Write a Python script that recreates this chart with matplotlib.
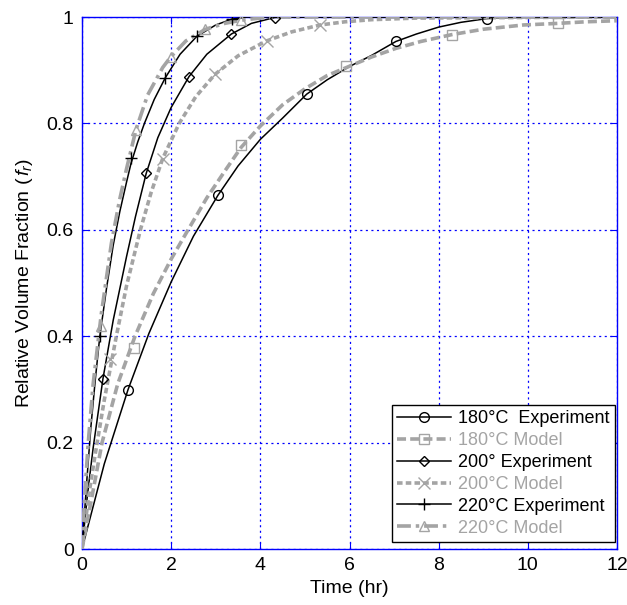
import matplotlib
matplotlib.use("Agg")
import matplotlib.pyplot as plt
from matplotlib.lines import Line2D

plt.rcParams['font.family'] = ['Liberation Sans', 'DejaVu Sans']
plt.rcParams['mathtext.fontset'] = 'custom'
plt.rcParams['mathtext.rm'] = 'Liberation Sans'
plt.rcParams['mathtext.it'] = 'Liberation Sans:italic'
plt.rcParams['lines.scale_dashes'] = False

# ---- data ----
# 180 C experiment
t180e = [0, 0.5, 1.03, 1.5, 2.0, 2.5, 3.05, 3.5, 4.0, 4.5, 5.04, 5.5, 6.0, 6.5, 7.04, 7.5, 8.0, 8.5, 9.08, 9.6, 10.1, 12]
f180e = [0, 0.16, 0.299, 0.405, 0.502, 0.588, 0.665, 0.72, 0.77, 0.81, 0.855, 0.882, 0.907, 0.928, 0.954, 0.968, 0.981, 0.99, 0.997, 0.999, 1.0, 1.0]
m180e_t = [1.03, 3.05, 5.04, 7.04, 9.08]
m180e_f = [0.299, 0.665, 0.855, 0.954, 0.997]

# 180 C model
t180m = [0, 0.25, 0.45, 0.8, 1.19, 1.6, 2.0, 2.38, 2.8, 3.2, 3.57, 4.0, 4.5, 5.0, 5.5, 5.93, 6.5, 7.04, 7.6, 8.3, 9.0, 9.9, 10.67, 11.3, 12]
f180m = [0, 0.11, 0.2, 0.31, 0.4, 0.48, 0.545, 0.6, 0.66, 0.71, 0.755, 0.795, 0.835, 0.865, 0.89, 0.905, 0.925, 0.941, 0.954, 0.967, 0.977, 0.985, 0.988, 0.991, 0.993]
m180m_t = [1.16, 3.57, 5.93, 8.3, 10.67]
m180m_f = [0.377, 0.759, 0.908, 0.967, 0.988]

# 200 C experiment
t200e = [0, 0.12, 0.25, 0.47, 0.7, 1.0, 1.2, 1.44, 1.7, 2.0, 2.4, 2.8, 3.35, 3.8, 4.32, 4.6, 12]
f200e = [0, 0.1, 0.19, 0.32, 0.43, 0.55, 0.625, 0.706, 0.773, 0.83, 0.888, 0.93, 0.968, 0.988, 0.999, 1.0, 1.0]
m200e_t = [0.47, 1.44, 2.40, 3.35, 4.32]
m200e_f = [0.32, 0.706, 0.888, 0.968, 0.999]

# 200 C model
t200m = [0, 0.15, 0.3, 0.5, 0.77, 1.0, 1.31, 1.55, 1.81, 2.18, 2.55, 2.98, 3.5, 4.14, 4.7, 5.34, 5.9, 6.5, 7.5, 12]
f200m = [0, 0.1, 0.18, 0.28, 0.4, 0.495, 0.6, 0.67, 0.734, 0.8, 0.85, 0.892, 0.927, 0.955, 0.972, 0.985, 0.991, 0.995, 0.998, 1.0]
m200m_t = [0.62, 1.81, 2.98, 4.14, 5.34]
m200m_f = [0.358, 0.734, 0.892, 0.955, 0.985]

# 220 C experiment
t220e = [0, 0.1, 0.2, 0.3, 0.4, 0.55, 0.7, 0.85, 1.0, 1.1, 1.25, 1.4, 1.62, 1.87, 2.2, 2.58, 3.0, 3.36, 3.7, 12]
f220e = [0, 0.12, 0.23, 0.32, 0.40, 0.49, 0.571, 0.635, 0.69, 0.725, 0.765, 0.80, 0.845, 0.886, 0.93, 0.964, 0.985, 0.996, 1.0, 1.0]
m220e_t = [0.40, 1.10, 1.87, 2.58, 3.36]
m220e_f = [0.40, 0.735, 0.886, 0.964, 0.996]

# 220 C model
t220m = [0, 0.06, 0.14, 0.25, 0.43, 0.66, 0.84, 1.0, 1.21, 1.47, 1.81, 1.99, 2.33, 2.77, 3.2, 3.57, 4.0, 4.5, 12]
f220m = [0, 0.1, 0.2, 0.31, 0.44, 0.575, 0.655, 0.715, 0.788, 0.853, 0.905, 0.925, 0.955, 0.977, 0.988, 0.994, 0.998, 1.0, 1.0]
m220m_t = [0.43, 1.21, 1.99, 2.77, 3.57]
m220m_f = [0.42, 0.788, 0.925, 0.977, 0.994]

labels = ['180°C  Experiment', '180°C Model', '200° Experiment',
          '200°C Model', '220°C Experiment', '220°C Model']
xticks = [0, 2, 4, 6, 8, 10, 12]
yticks = [0, 0.2, 0.4, 0.6, 0.8, 1.0]
yticklabels = ['0', '0.2', '0.4', '0.6', '0.8', '1']

# ---- styles ----
gray = '#a4a4a4'
blue = '#0000ff'
styles = [
    dict(color='black', lw=1.1, ls='-', marker='o', ms=7),
    dict(color=gray, lw=2.6, ls=(0, (6.5, 3.0)), marker='s', ms=7),
    dict(color='black', lw=1.1, ls='-', marker='D', ms=5.5),
    dict(color=gray, lw=2.6, ls=(0, (4.0, 2.3)), marker='x', ms=8),
    dict(color='black', lw=1.1, ls='-', marker='+', ms=9),
    dict(color=gray, lw=2.6, ls=(0, (10, 3.5, 2.5, 3.5)), marker='^', ms=7),
]
curves = [(t180e, f180e), (t180m, f180m), (t200e, f200e),
          (t200m, f200m), (t220e, f220e), (t220m, f220m)]
markers = [(m180e_t, m180e_f), (m180m_t, m180m_f), (m200e_t, m200e_f),
           (m200m_t, m200m_f), (m220e_t, m220e_f), (m220m_t, m220m_f)]

fig = plt.figure(figsize=(6.27, 6.05), dpi=100)
ax = fig.add_axes([82 / 627, 1 - 549 / 605, (617 - 82) / 627, (549 - 17) / 605])

handles = []
for (ct, cf), (mt, mf), st in zip(curves, markers, styles):
    ax.plot(ct, cf, color=st['color'], lw=st['lw'], ls=st['ls'], zorder=3)
    ax.plot(mt, mf, ls='none', marker=st['marker'], ms=st['ms'],
            mfc='none', mec=st['color'], mew=1.0, zorder=4)
    handles.append(Line2D([], [], color=st['color'], lw=st['lw'], ls=st['ls'],
                          marker=st['marker'], ms=st['ms'], mfc='none',
                          mec=st['color'], mew=1.0))

ax.set_xlim(0, 12)
ax.set_ylim(0, 1)
ax.set_xticks(xticks)
ax.set_yticks(yticks)
ax.set_yticklabels(yticklabels)
ax.grid(True, color=blue, ls=(0, (1.5, 2.5)), lw=0.9)
ax.set_axisbelow(True)
for s in ax.spines.values():
    s.set_color(blue)
    s.set_linewidth(1.0)
ax.tick_params(direction='in', length=5, color=blue, labelsize=14,
               top=True, right=True, labelcolor='black', pad=6)

ax.set_xlabel('Time (hr)', fontsize=14, labelpad=4)
ax.set_ylabel(r'Relative Volume Fraction ($\,f_r$)', fontsize=14, labelpad=8)

leg = ax.legend(handles, labels, loc='lower right', fontsize=13,
                bbox_to_anchor=(1 - 2.5 / 535, 7 / 532), borderaxespad=0,
                handlelength=3.0, handletextpad=0.35, labelspacing=0.27,
                borderpad=0.3, fancybox=False,
                framealpha=1, edgecolor='black')
leg.get_frame().set_linewidth(1.0)
for i, txt in enumerate(leg.get_texts()):
    if i % 2 == 1:
        txt.set_color(gray)

fig.savefig('out.png', dpi=100)
